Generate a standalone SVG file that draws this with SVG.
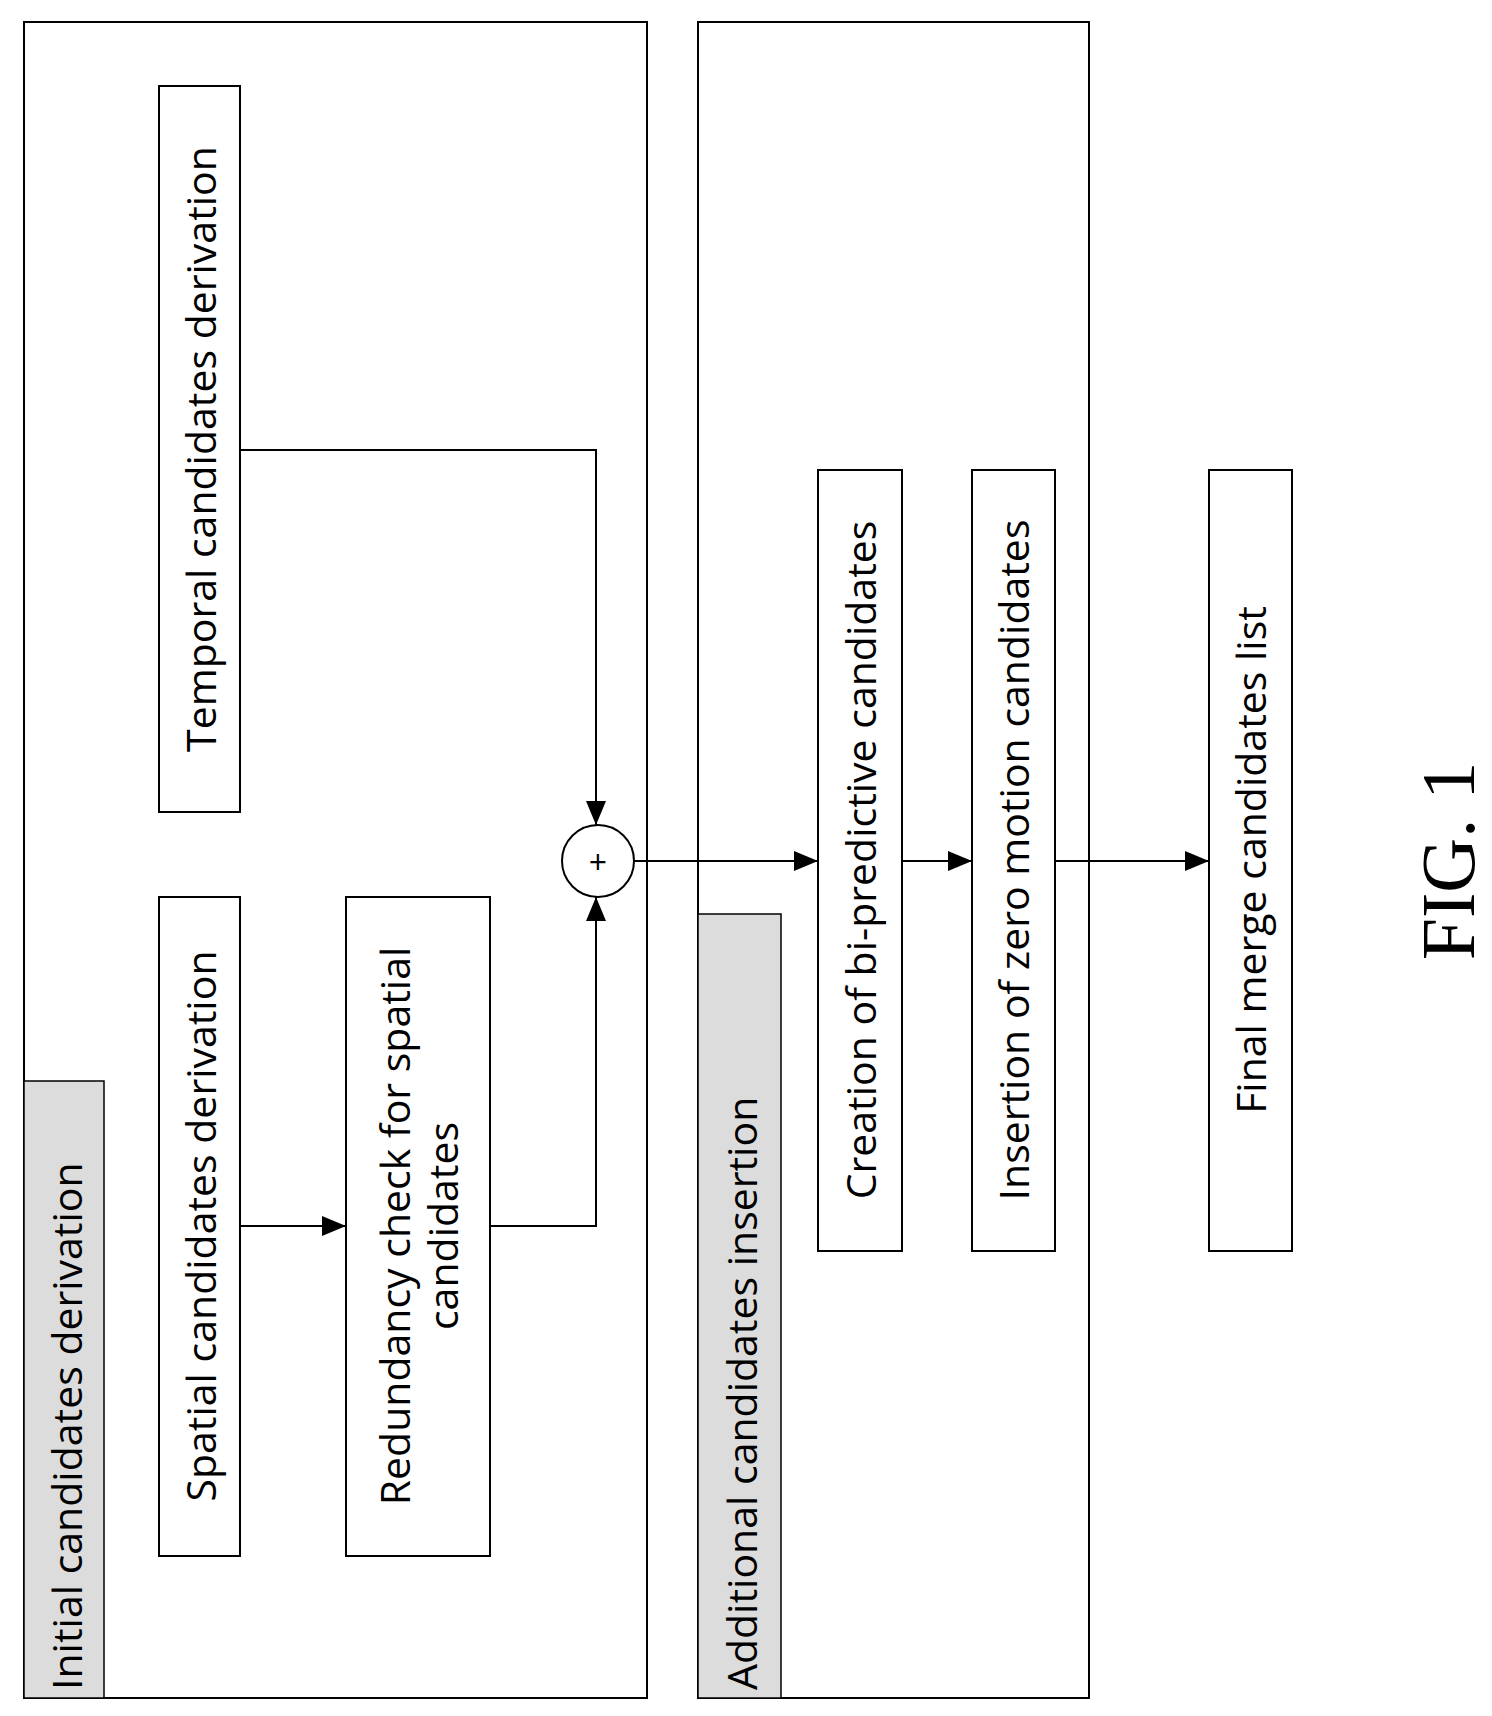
<svg xmlns="http://www.w3.org/2000/svg" width="1492" height="1716" viewBox="0 0 1492 1716">
<style>
.b{fill:#fff;stroke:#000;stroke-width:2}
.g{fill:#dcdcdc;stroke:#000;stroke-width:1.5}
.t{font-family:"Open Sans","Noto Sans",sans-serif;font-size:41px;fill:#000;text-anchor:middle;dominant-baseline:central}
.c{fill:none;stroke:#000;stroke-width:2}
</style>
<defs><marker id="a2" markerWidth="24" markerHeight="20" refX="24" refY="10" orient="auto" markerUnits="userSpaceOnUse"><path d="M0,0L24,10L0,20Z" fill="#000"/></marker></defs>
<rect width="1492" height="1716" fill="#fff"/>
<g id="group1"><rect class="b" x="24" y="22" width="623" height="1676"/>
<rect class="g" x="24" y="1081" width="80" height="617"/>
<text class="t" style="text-anchor:start" transform="translate(66,1690) rotate(-90)">Initial candidates derivation</text></g>
<g id="group2"><rect class="b" x="698" y="22" width="391" height="1676"/>
<rect class="g" x="698" y="914" width="83" height="784"/>
<text class="t" style="text-anchor:start" transform="translate(741,1690) rotate(-90)">Additional candidates insertion</text></g>
<g id="temporal"><rect class="b" x="159" y="86" width="81" height="726"/><text class="t" transform="translate(200,449) rotate(-90)">Temporal candidates derivation</text></g>
<g id="spatial"><rect class="b" x="159" y="897" width="81" height="659"/><text class="t" transform="translate(200,1226) rotate(-90)">Spatial candidates derivation</text></g>
<g id="redundancy"><rect class="b" x="346" y="897" width="144" height="659"/><text class="t" transform="translate(418,1226) rotate(-90)"><tspan x="0" dy="-24">Redundancy check for spatial</tspan><tspan x="0" dy="48">candidates</tspan></text></g>
<g id="sum"><circle cx="598" cy="861" r="36" class="b"/><text class="t" x="598" y="861" style="font-size:32px">+</text></g>
<g id="creation"><rect class="b" x="818" y="470" width="84" height="781"/><text class="t" transform="translate(860,860) rotate(-90)">Creation of bi-predictive candidates</text></g>
<g id="insertion"><rect class="b" x="972" y="470" width="83" height="781"/><text class="t" transform="translate(1013,860) rotate(-90)">Insertion of zero motion candidates</text></g>
<g id="final"><rect class="b" x="1209" y="470" width="83" height="781"/><text class="t" transform="translate(1250,860) rotate(-90)">Final merge candidates list</text></g>
<g id="connectors">
<path class="c" d="M240,450H596V825" marker-end="url(#a2)"/>
<path class="c" d="M240,1226H346" marker-end="url(#a2)"/>
<path class="c" d="M490,1226H596V897" marker-end="url(#a2)"/>
<path class="c" d="M634,861H818" marker-end="url(#a2)"/>
<path class="c" d="M902,861H972" marker-end="url(#a2)"/>
<path class="c" d="M1055,861H1209" marker-end="url(#a2)"/>
</g>
<text transform="translate(1448,861) rotate(-90)" style="font-family:'Liberation Serif',serif;font-size:76px;text-anchor:middle;dominant-baseline:central">FIG. 1</text>
</svg>
